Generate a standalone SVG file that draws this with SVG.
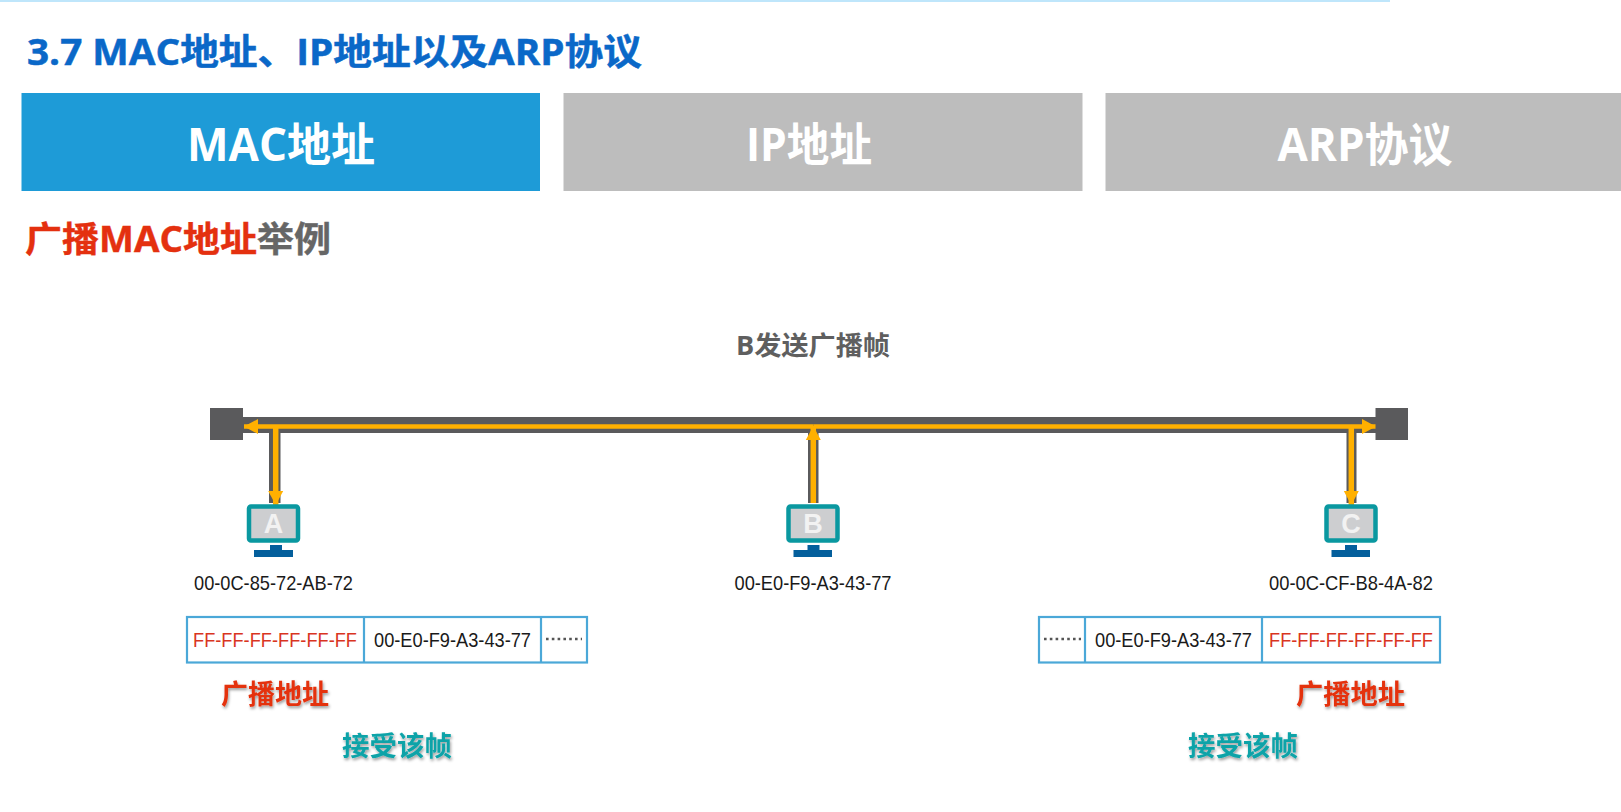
<svg xmlns="http://www.w3.org/2000/svg" width="1621" height="812" viewBox="0 0 1621 812">
<defs>
<filter id="sh" x="-10%" y="-20%" width="120%" height="150%"><feDropShadow dx="1" dy="2" stdDeviation="1.5" flood-color="#000" flood-opacity="0.4"/></filter>
<marker id="ah" markerUnits="userSpaceOnUse" markerWidth="15" markerHeight="16" refX="14" refY="8" orient="auto"><path d="M0 0.500L14 8L0 15.500Z" fill="#ffb000"/></marker>
</defs>
<style>
text{font-family:"Open Sans","Noto Sans CJK SC",sans-serif;font-weight:700}
.addr{font-family:"Liberation Sans",sans-serif;font-weight:400;font-size:21px;fill:#1a1a1a}
.red{fill:#d9351f}
.tab{font-size:46px;fill:#fff;text-anchor:middle}
.note{font-size:27px;filter:url(#sh)}
.bus{fill:#5a5a5c}
.sig{stroke:#ffb000;fill:none}
.frame{fill:#fff;stroke:#4ba8d8;stroke-width:2.2}
.scr{fill:#cdced0;stroke:#0a98a0;stroke-width:4.5}
.stand{fill:#045f9c}
.mon{font-family:"Liberation Sans",sans-serif;font-size:27px;font-weight:700;fill:#f2f2f2;text-anchor:middle}
.dots{stroke:#555;stroke-width:2.6;stroke-dasharray:2.6 3.2;fill:none}
</style>
<rect width="1621" height="812" fill="#fff"/>
<rect width="1390" height="2" fill="#bfe6fb"/>
<text x="27" y="65" font-size="36" fill="#0a68c8" stroke="#0a68c8" stroke-width="0.5" textLength="615" lengthAdjust="spacingAndGlyphs">3.7 MAC地址、IP地址以及ARP协议</text>
<g id="tab-mac"><rect x="21.5" y="93" width="518.5" height="98" fill="#1e9bd7"/><text class="tab" x="281" y="161" textLength="188" lengthAdjust="spacingAndGlyphs">MAC地址</text></g>
<g id="tab-ip"><rect x="563.5" y="93" width="519" height="98" fill="#bdbdbd"/><text class="tab" x="809" y="161" textLength="126" lengthAdjust="spacingAndGlyphs">IP地址</text></g>
<g id="tab-arp"><rect x="1105.5" y="93" width="515.5" height="98" fill="#bdbdbd"/><text class="tab" x="1365" y="161" textLength="175" lengthAdjust="spacingAndGlyphs">ARP协议</text></g>
<text x="25" y="252" font-size="35" fill="#e4300f" stroke="#e4300f" stroke-width="0.4" textLength="306" lengthAdjust="spacingAndGlyphs">广播MAC地址<tspan fill="#666" stroke="#666">举例</tspan></text>
<text x="813" y="355" font-size="26.5" fill="#5f5f5f" text-anchor="middle" textLength="154" lengthAdjust="spacingAndGlyphs">B发送广播帧</text>
<g id="connectors">
<rect class="bus" x="243" y="417" width="1133" height="16"/>
<rect class="bus" x="269" y="433" width="11.5" height="70"/>
<rect class="bus" x="808" y="433" width="10.5" height="70"/>
<rect class="bus" x="1346.5" y="433" width="10" height="70"/>
<path class="sig" stroke-width="4.5" d="M813.3 426.500H1376" marker-end="url(#ah)"/>
<path class="sig" stroke-width="4.5" d="M813.3 426.500H244" marker-end="url(#ah)"/>
<path class="sig" stroke-width="5.5" d="M813.3 503V426" marker-end="url(#ah)"/>
<path class="sig" stroke-width="5.5" d="M275.700 428V505" marker-end="url(#ah)"/>
<path class="sig" stroke-width="5.5" d="M1351.300 428V505" marker-end="url(#ah)"/>
</g>
<g id="hub-left"><rect class="bus" x="210" y="408" width="33" height="32"/></g>
<g id="hub-right"><rect class="bus" x="1375.500" y="408" width="32.500" height="32"/></g>
<g id="host-a">
<rect class="scr" x="249" y="506.500" width="49" height="34" rx="2"/>
<path class="stand" d="M270 545H282V550H293V557H254V550H270Z"/>
<text class="mon" x="273.500" y="533">A</text>
<text class="addr" x="273.500" y="590" text-anchor="middle" textLength="159" lengthAdjust="spacingAndGlyphs">00-0C-85-72-AB-72</text>
</g>
<g id="host-b">
<rect class="scr" x="788.500" y="506.500" width="49" height="34" rx="2"/>
<path class="stand" d="M807.500 545H819.500V550H832V557H793.500V550H807.500Z"/>
<text class="mon" x="813" y="533">B</text>
<text class="addr" x="813" y="590" text-anchor="middle" textLength="157" lengthAdjust="spacingAndGlyphs">00-E0-F9-A3-43-77</text>
</g>
<g id="host-c">
<rect class="scr" x="1326.500" y="506.500" width="49" height="34" rx="2"/>
<path class="stand" d="M1345 545H1357V550H1370V557H1331.500V550H1345Z"/>
<text class="mon" x="1351" y="533">C</text>
<text class="addr" x="1351" y="590" text-anchor="middle" textLength="164" lengthAdjust="spacingAndGlyphs">00-0C-CF-B8-4A-82</text>
</g>
<g id="frame-a">
<rect class="frame" x="187" y="617" width="400" height="45.500"/>
<path class="frame" d="M364 617V662.500M541 617V662.500"/>
<text class="addr red" x="193" y="647" textLength="164" lengthAdjust="spacingAndGlyphs">FF-FF-FF-FF-FF-FF</text>
<text class="addr" x="374" y="647" textLength="157" lengthAdjust="spacingAndGlyphs">00-E0-F9-A3-43-77</text>
<path class="dots" d="M546 639H582"/>
</g>
<g id="frame-c">
<rect class="frame" x="1039" y="617" width="401" height="45.500"/>
<path class="frame" d="M1085 617V662.500M1262 617V662.500"/>
<path class="dots" d="M1044 639H1081"/>
<text class="addr" x="1095" y="647" textLength="157" lengthAdjust="spacingAndGlyphs">00-E0-F9-A3-43-77</text>
<text class="addr red" x="1269" y="647" textLength="164" lengthAdjust="spacingAndGlyphs">FF-FF-FF-FF-FF-FF</text>
</g>
<text class="note" x="221" y="704" fill="#e4300f" textLength="108" lengthAdjust="spacingAndGlyphs">广播地址</text>
<text class="note" x="1296" y="704" fill="#e4300f" textLength="109" lengthAdjust="spacingAndGlyphs">广播地址</text>
<text class="note" x="342" y="756" fill="#0aa3a8" textLength="110" lengthAdjust="spacingAndGlyphs">接受该帧</text>
<text class="note" x="1188" y="756" fill="#0aa3a8" textLength="110" lengthAdjust="spacingAndGlyphs">接受该帧</text>
</svg>
